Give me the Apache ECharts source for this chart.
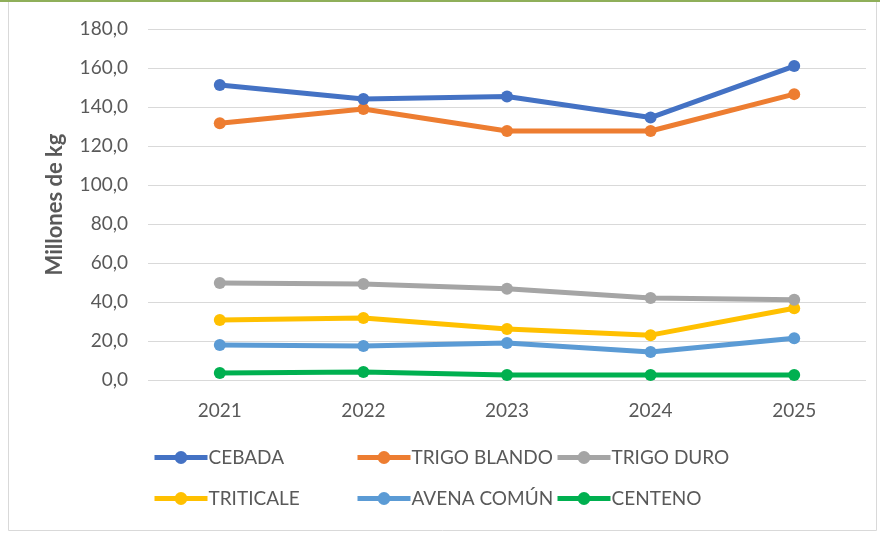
<!DOCTYPE html>
<html>
<head>
<meta charset="utf-8">
<script src="https://cdn.jsdelivr.net/npm/echarts@6/dist/echarts.min.js"></script>
<style>
  html, body { margin: 0; padding: 0; background: #fff; }
  #chart { width: 880px; height: 533px; }
</style>
</head>
<body>
<div id="chart"></div>
<script>
var years = ['2021', '2022', '2023', '2024', '2025'];
var cebada = [151.3, 144.1, 145.4, 134.6, 161.0];
var trigoBlando = [131.7, 139.0, 127.7, 127.7, 146.6];
var trigoDuro = [49.7, 49.2, 46.8, 42.1, 41.2];
var triticale = [30.8, 31.8, 26.2, 23.0, 36.8];
var avena = [17.9, 17.4, 19.0, 14.4, 21.4];
var centeno = [3.6, 4.1, 2.6, 2.6, 2.6];

var names = ['CEBADA', 'TRIGO BLANDO', 'TRIGO DURO', 'TRITICALE', 'AVENA COMÚN', 'CENTENO'];
var values = [cebada, trigoBlando, trigoDuro, triticale, avena, centeno];
var colors = ['#4472C4', '#ED7D31', '#A5A5A5', '#FFC000', '#5B9BD5', '#00B050'];

var font = 'Lato, "Open Sans", sans-serif';
var txt = '#595959';

var series = names.map(function (n, i) {
  return {
    name: n,
    type: 'line',
    data: values[i],
    symbol: 'circle',
    symbolSize: 12,
    lineStyle: { width: 5, color: colors[i] },
    itemStyle: { color: colors[i] },
    z: 10 - i
  };
});

// one legend per item so the columns line up like the original
var legendPos = [[152, 448], [355, 448], [555, 448], [152, 489], [355, 489], [555, 489]];
var legends = names.map(function (n, i) {
  return {
    data: [n],
    left: legendPos[i][0],
    top: legendPos[i][1],
    itemWidth: 53,
    itemHeight: 16,
    itemGap: 5,
    padding: 0,
    lineStyle: { width: 5 },
    textStyle: { color: txt, fontSize: 19, fontFamily: font, padding: [0, 0, 0, -4] }
  };
});

var chart = echarts.init(document.getElementById('chart'));
chart.setOption({
  animation: false,
  color: colors,
  textStyle: { fontFamily: font },
  graphic: [
    { type: 'rect', shape: { x: 8.5, y: 1.5, width: 868, height: 529 },
      style: { fill: 'none', stroke: '#D9D9D9', lineWidth: 1 }, silent: true },
    { type: 'line', shape: { x1: 0, y1: 1, x2: 880, y2: 1 },
      style: { stroke: '#8FAF5A', lineWidth: 2 }, silent: true }
  ],
  legend: legends,
  grid: { left: 148, right: 14, top: 29, bottom: 153 },
  xAxis: {
    type: 'category',
    data: years,
    boundaryGap: true,
    axisLine: { show: false },
    axisTick: { show: false },
    axisLabel: { color: txt, fontSize: 19, fontFamily: font, margin: 21 }
  },
  yAxis: {
    type: 'value',
    min: 0,
    max: 180,
    interval: 20,
    name: 'Millones de kg',
    nameLocation: 'middle',
    nameGap: 82,
    nameTextStyle: { color: txt, fontSize: 22, fontWeight: 'bold', fontFamily: font },
    axisLine: { show: false },
    axisTick: { show: false },
    axisLabel: {
      color: txt, fontSize: 19, fontFamily: font, margin: 20,
      formatter: function (v) { return v.toFixed(1).replace('.', ','); }
    },
    splitLine: { lineStyle: { color: '#D9D9D9', width: 1 } }
  },
  series: series
});
</script>
</body>
</html>
